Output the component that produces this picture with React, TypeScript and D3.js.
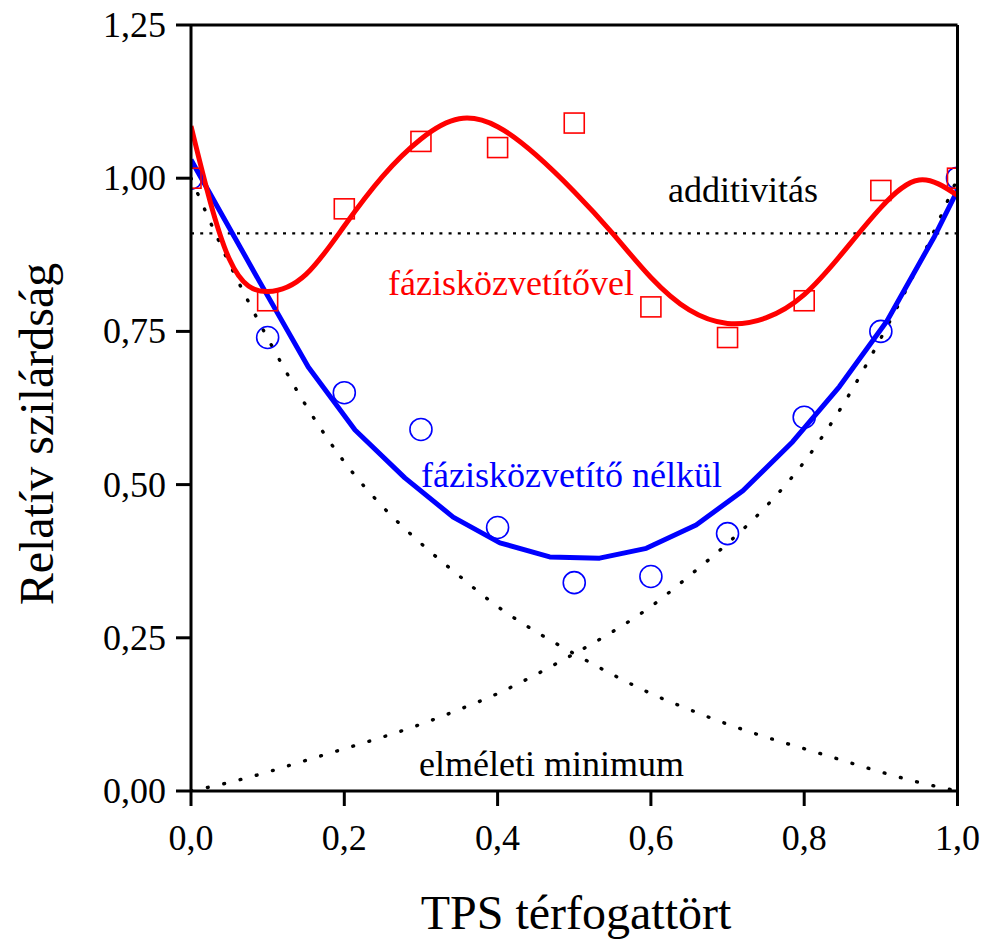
import React from "react";
import * as d3 from "d3";

// ---- data ----
const measX = [0, 0.1, 0.2, 0.3, 0.4, 0.5, 0.6, 0.7, 0.8, 0.9, 1.0];
const withCompat = [1.0, 0.8, 0.95, 1.06, 1.05, 1.09, 0.79, 0.74, 0.8, 0.98, 1.0];
const withoutCompat = [1.0, 0.74, 0.65, 0.59, 0.43, 0.34, 0.35, 0.42, 0.61, 0.75, 1.0];

const redFitX = [0, 0.05, 0.1, 0.15, 0.2, 0.25, 0.3, 0.35, 0.4, 0.45, 0.5, 0.55, 0.6, 0.65, 0.7, 0.75, 0.8, 0.85, 0.9, 0.95, 1.0];
const redFitY = [1.085, 0.868, 0.815, 0.843, 0.922, 1.003, 1.064, 1.097, 1.084, 1.038, 0.978, 0.91, 0.838, 0.785, 0.763, 0.772, 0.81, 0.878, 0.952, 0.997, 0.972];

const blueFitX = [0, 0.09, 0.153, 0.214, 0.279, 0.342, 0.403, 0.468, 0.533, 0.594, 0.659, 0.72, 0.785, 0.846, 0.908, 0.97, 1.0];
const blueFitY = [1.03, 0.83, 0.692, 0.589, 0.511, 0.447, 0.405, 0.382, 0.38, 0.396, 0.434, 0.49, 0.57, 0.66, 0.767, 0.905, 0.98];

const minX = [0, 0.05, 0.1, 0.15, 0.2, 0.25, 0.3, 0.35, 0.4, 0.45, 0.5, 0.55, 0.6, 0.65, 0.7, 0.75, 0.8, 0.85, 0.9, 0.95, 1.0];
const minDesc = [1.0, 0.861, 0.739, 0.629, 0.537, 0.464, 0.404, 0.351, 0.301, 0.26, 0.224, 0.19, 0.159, 0.133, 0.109, 0.088, 0.069, 0.05, 0.031, 0.014, 0.0];
const minAsc = [0.0, 0.014, 0.031, 0.05, 0.069, 0.088, 0.109, 0.133, 0.159, 0.19, 0.224, 0.26, 0.301, 0.351, 0.404, 0.464, 0.537, 0.629, 0.739, 0.861, 1.0];

const additivityX = [0, 1];
const additivityY = [0.91, 0.91];

const xTicks = [0, 0.2, 0.4, 0.6, 0.8, 1.0];
const xTickLabels = ["0,0", "0,2", "0,4", "0,6", "0,8", "1,0"];
const yTicks = [0, 0.25, 0.5, 0.75, 1.0, 1.25];
const yTickLabels = ["0,00", "0,25", "0,50", "0,75", "1,00", "1,25"];

const FONT = "'Liberation Serif', 'Times New Roman', serif";

export default function App() {
  const x = d3.scaleLinear().domain([0, 1]).range([191, 957.5]);
  const y = d3.scaleLinear().domain([0, 1.25]).range([791, 25]);

  const zip = (xs: number[], ys: number[]) => xs.map((v, i) => [v, ys[i]] as [number, number]);
  const lineNatural = d3
    .line<[number, number]>()
    .x((d) => x(d[0]))
    .y((d) => y(d[1]))
    .curve(d3.curveNatural);
  const lineSmooth = d3
    .line<[number, number]>()
    .x((d) => x(d[0]))
    .y((d) => y(d[1]))
    .curve(d3.curveMonotoneX);
  const lineStraight = d3
    .line<[number, number]>()
    .x((d) => x(d[0]))
    .y((d) => y(d[1]));

  const x0 = x(0), x1 = x(1), yb = y(0), yt = y(1.25);
  const tickLen = 15;
  const sq = 20;

  return (
    <svg
      width={983}
      height={941}
      style={{ position: "absolute", left: 0, top: 0, background: "#fff" }}
      fontFamily={FONT}
    >
      <defs>
        <clipPath id="plotClip">
          <rect x={x0} y={yt} width={x1 - x0} height={yb - yt} />
        </clipPath>
      </defs>

      <g clipPath="url(#plotClip)">
        <path
          d={lineStraight(zip(additivityX, additivityY)) || ""}
          fill="none"
          stroke="#000"
          strokeWidth={2.2}
          strokeDasharray="3 6.2"
        />
        <path
          d={lineSmooth(zip(minX, minDesc)) || ""}
          fill="none"
          stroke="#000"
          strokeWidth={3.4}
          strokeLinecap="round"
          strokeDasharray="0.8 16"
        />
        <path
          d={lineSmooth(zip(minX, minAsc)) || ""}
          fill="none"
          stroke="#000"
          strokeWidth={3.4}
          strokeLinecap="round"
          strokeDasharray="0.8 16"
        />
        <path
          d={lineStraight(zip(blueFitX, blueFitY)) || ""}
          fill="none"
          stroke="#0000ff"
          strokeWidth={5}
          strokeLinejoin="round"
        />
        <path
          d={lineNatural(zip(redFitX, redFitY)) || ""}
          fill="none"
          stroke="#ff0000"
          strokeWidth={5}
        />
        {measX.map((v, i) => (
          <circle
            key={"c" + i}
            cx={x(v)}
            cy={y(withoutCompat[i])}
            r={11}
            fill="none"
            stroke="#0000ff"
            strokeWidth={1.6}
          />
        ))}
        {measX.map((v, i) => (
          <rect
            key={"s" + i}
            x={x(v) - sq / 2}
            y={y(withCompat[i]) - sq / 2}
            width={sq}
            height={sq}
            fill="none"
            stroke="#ff0000"
            strokeWidth={1.6}
          />
        ))}
      </g>

      <g stroke="#000" strokeWidth={3} fill="none">
        <line x1={x0} y1={yt} x2={x0} y2={yb} />
        <line x1={x1} y1={yt} x2={x1} y2={yb} />
        <line x1={x0} y1={yb} x2={x1} y2={yb} />
        <line x1={x0} y1={yt} x2={x1} y2={yt} />
        {xTicks.map((t, i) => (
          <line key={"xt" + i} x1={x(t)} x2={x(t)} y1={yb} y2={yb + tickLen} />
        ))}
        {yTicks.map((t, i) => (
          <line key={"yt" + i} x1={x0 - tickLen} x2={x0} y1={y(t)} y2={y(t)} />
        ))}
      </g>

      {xTicks.map((t, i) => (
        <text key={"xl" + i} x={x(t)} y={850} textAnchor="middle" fontSize={36} fill="#000">
          {xTickLabels[i]}
        </text>
      ))}
      {yTicks.map((t, i) => (
        <text key={"yl" + i} x={166} y={y(t) + 12} textAnchor="end" fontSize={36} fill="#000">
          {yTickLabels[i]}
        </text>
      ))}

      <text x={576} y={929} textAnchor="middle" fontSize={48} fill="#000">
        TPS térfogattört
      </text>
      <text
        transform="translate(53,434) rotate(-90)"
        textAnchor="middle"
        fontSize={48}
        fill="#000"
      >
        Relatív szilárdság
      </text>

      <text x={668} y={202} fontSize={36} fill="#000">additivitás</text>
      <text x={388} y={295} fontSize={36} fill="#ff0000">fázisközvetítővel</text>
      <text x={421} y={487} fontSize={36} fill="#0000ff">fázisközvetítő nélkül</text>
      <text x={419} y={776} fontSize={36} fill="#000">elméleti minimum</text>
    </svg>
  );
}
